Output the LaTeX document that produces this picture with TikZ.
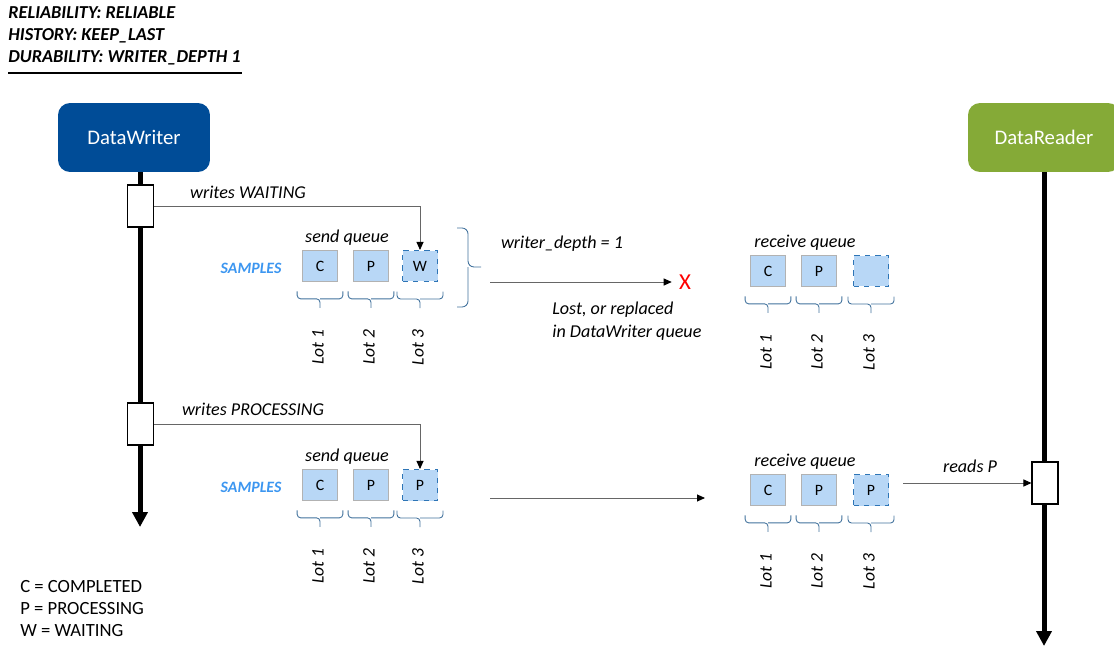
\documentclass[tikz,border=0pt]{standalone}
\usepackage{fontspec}
\setmainfont{Carlito}
\usetikzlibrary{arrows.meta, positioning}

\definecolor{writerblue}{RGB}{0,76,151}
\definecolor{readergreen}{RGB}{133,170,55}
\definecolor{samplefill}{RGB}{184,215,246}
\definecolor{sampleedge}{RGB}{46,117,182}
\definecolor{samplestext}{RGB}{60,150,240}
\definecolor{bracecol}{RGB}{65,113,156}

\begin{document}
\begin{tikzpicture}[
  x=0.02cm, y=-0.02cm,
  entity/.style={rounded corners=0.24cm, minimum width=3.04cm, minimum height=1.38cm, text=white, font=\fontsize{11.8}{14}\selectfont},
  lifeline/.style={line width=0.1cm, -{Triangle[length=0.3cm, width=0.3cm]}},
  activity/.style={draw, fill=white, line width=0.6pt, minimum width=0.52cm, minimum height=0.84cm, inner sep=0pt},
  qbox/.style={draw=black!30, fill=samplefill, minimum width=0.7cm, minimum height=0.62cm, inner sep=0pt, font=\fontsize{9}{11}\selectfont},
  qnew/.style={qbox, draw=sampleedge, dashed, line width=0.6pt},
  msgtext/.style={inner sep=0pt, font=\itshape\fontsize{10.3}{13}\selectfont},
  header/.style={inner sep=0pt, anchor=west, font=\bfseries\itshape\fontsize{10.4}{12}\selectfont},
  legend/.style={inner sep=0pt, anchor=west, font=\fontsize{10.6}{13}\selectfont},
  samplestag/.style={inner sep=0pt, text=samplestext, font=\bfseries\itshape\fontsize{9}{11}\selectfont},
  lot/.style={inner sep=0pt, rotate=90, font=\itshape\fontsize{10}{12}\selectfont},
  lotbrace/.style={draw=bracecol, line width=0.5pt, rounded corners=0.07cm},
  msg/.style={draw=black!60, line width=0.5pt, -{Triangle[length=0.16cm, width=0.14cm, color=black]}},
  ]

  \useasboundingbox (0,0) rectangle (1114,648);

  % QoS settings
  \node[header] (rel) at (8,13) {RELIABILITY: RELIABLE};
  \node[header] (hist) at (8,36) {HISTORY: KEEP\_LAST};
  \node[header] (dur) at (8,58) {DURABILITY: WRITER\_DEPTH 1};
  \draw[line width=1.7pt] (8,73) -- (242,73);

  % entities and lifelines
  \node[entity, fill=writerblue] (writer) at (134,137.5) {DataWriter};
  \node[entity, fill=readergreen] (reader) at (1044,137.5) {DataReader};
  \coordinate (wend) at (140,527);
  \coordinate (rend) at (1044,646);
  \draw[lifeline] (writer.south -| wend) -- (wend);
  \draw[lifeline] (reader.south) -- (rend);

  \node[activity] (wacta) at (140.5,206) {};
  \node[activity] (wactb) at (140.5,424) {};
  \node[activity] (racta) at (1045,483) {};

  % first write
  \node[msgtext] (sendqa) at (347,238) {send queue};
  \node[samplestag] (samplesa) at (251,268) {SAMPLES};
  \node[qbox] (sa1) at (320,266) {C};
  \node[qbox] (sa2) at (371,266) {P};
  \node[qnew] (sa3) at (420,266) {W};
  \draw[msg] (wacta.east) -| (sa3.north);
  \node[msgtext] (writesa) at (248,192) {writes WAITING};

  \draw[lotbrace, rounded corners=0.12cm] (457,228) -| (468,267) -- (481,267) (468,267) |- (457,307);
  \node[msgtext] (depth) at (562,244) {writer\_depth = 1};
  \coordinate (dropa) at (490,282);
  \node[inner sep=0pt, text=red, font=\fontsize{13}{15}\selectfont] (lost) at (685,282) {X};
  \draw[msg] (dropa) -- ([xshift=-0.14cm]lost.west);
  \node[msgtext, align=left, anchor=west] (lostnote) at (552,321) {Lost, or replaced\\in DataWriter queue};

  \node[msgtext] (recvqa) at (805,243) {receive queue};
  \node[qbox] (ra1) at (768,271) {C};
  \node[qbox] (ra2) at (819,271) {P};
  \node[qnew] (ra3) at (871,271) {};

  % second write
  \node[msgtext] (sendqb) at (347,457) {send queue};
  \node[samplestag] (samplesb) at (251,487) {SAMPLES};
  \node[qbox] (sb1) at (320,485) {C};
  \node[qbox] (sb2) at (371,485) {P};
  \node[qnew] (sb3) at (420,485) {P};
  \draw[msg] (wactb.east) -| (sb3.north);
  \node[msgtext] (writesb) at (253,409) {writes PROCESSING};

  \coordinate (senda) at (490,498);
  \coordinate (sendb) at (705,498);
  \draw[msg] (senda) -- (sendb);

  \node[msgtext] (recvqb) at (805,462) {receive queue};
  \node[qbox] (rb1) at (768,490) {C};
  \node[qbox] (rb2) at (819,490) {P};
  \node[qnew] (rb3) at (871,490) {P};

  \coordinate (readfrom) at (903,483);
  \draw[msg] (readfrom) -- (racta.west);
  \node[msgtext] (readsp) at (970,466) {reads P};

  % lots
  \foreach \q in {sa,sb,ra,rb} {
    \foreach \i in {1,2,3} {
      \draw[lotbrace] ([xshift=-0.1cm,yshift=-0.19cm]\q\i.south west) |- ([yshift=-0.34cm]\q\i.south) -- ++(0,-0.18cm)
        ([yshift=-0.34cm]\q\i.south) -| ([xshift=0.1cm,yshift=-0.19cm]\q\i.south east);
      \node[lot] (lot\q\i) at ([xshift=-0.04cm,yshift=-1.31cm]\q\i.south) {Lot \i};
    }
  }

  % legend
  \node[legend] (legc) at (20,587) {C = COMPLETED};
  \node[legend] (legp) at (20,609) {P = PROCESSING};
  \node[legend] (legw) at (20,631) {W = WAITING};

\end{tikzpicture}
\end{document}
